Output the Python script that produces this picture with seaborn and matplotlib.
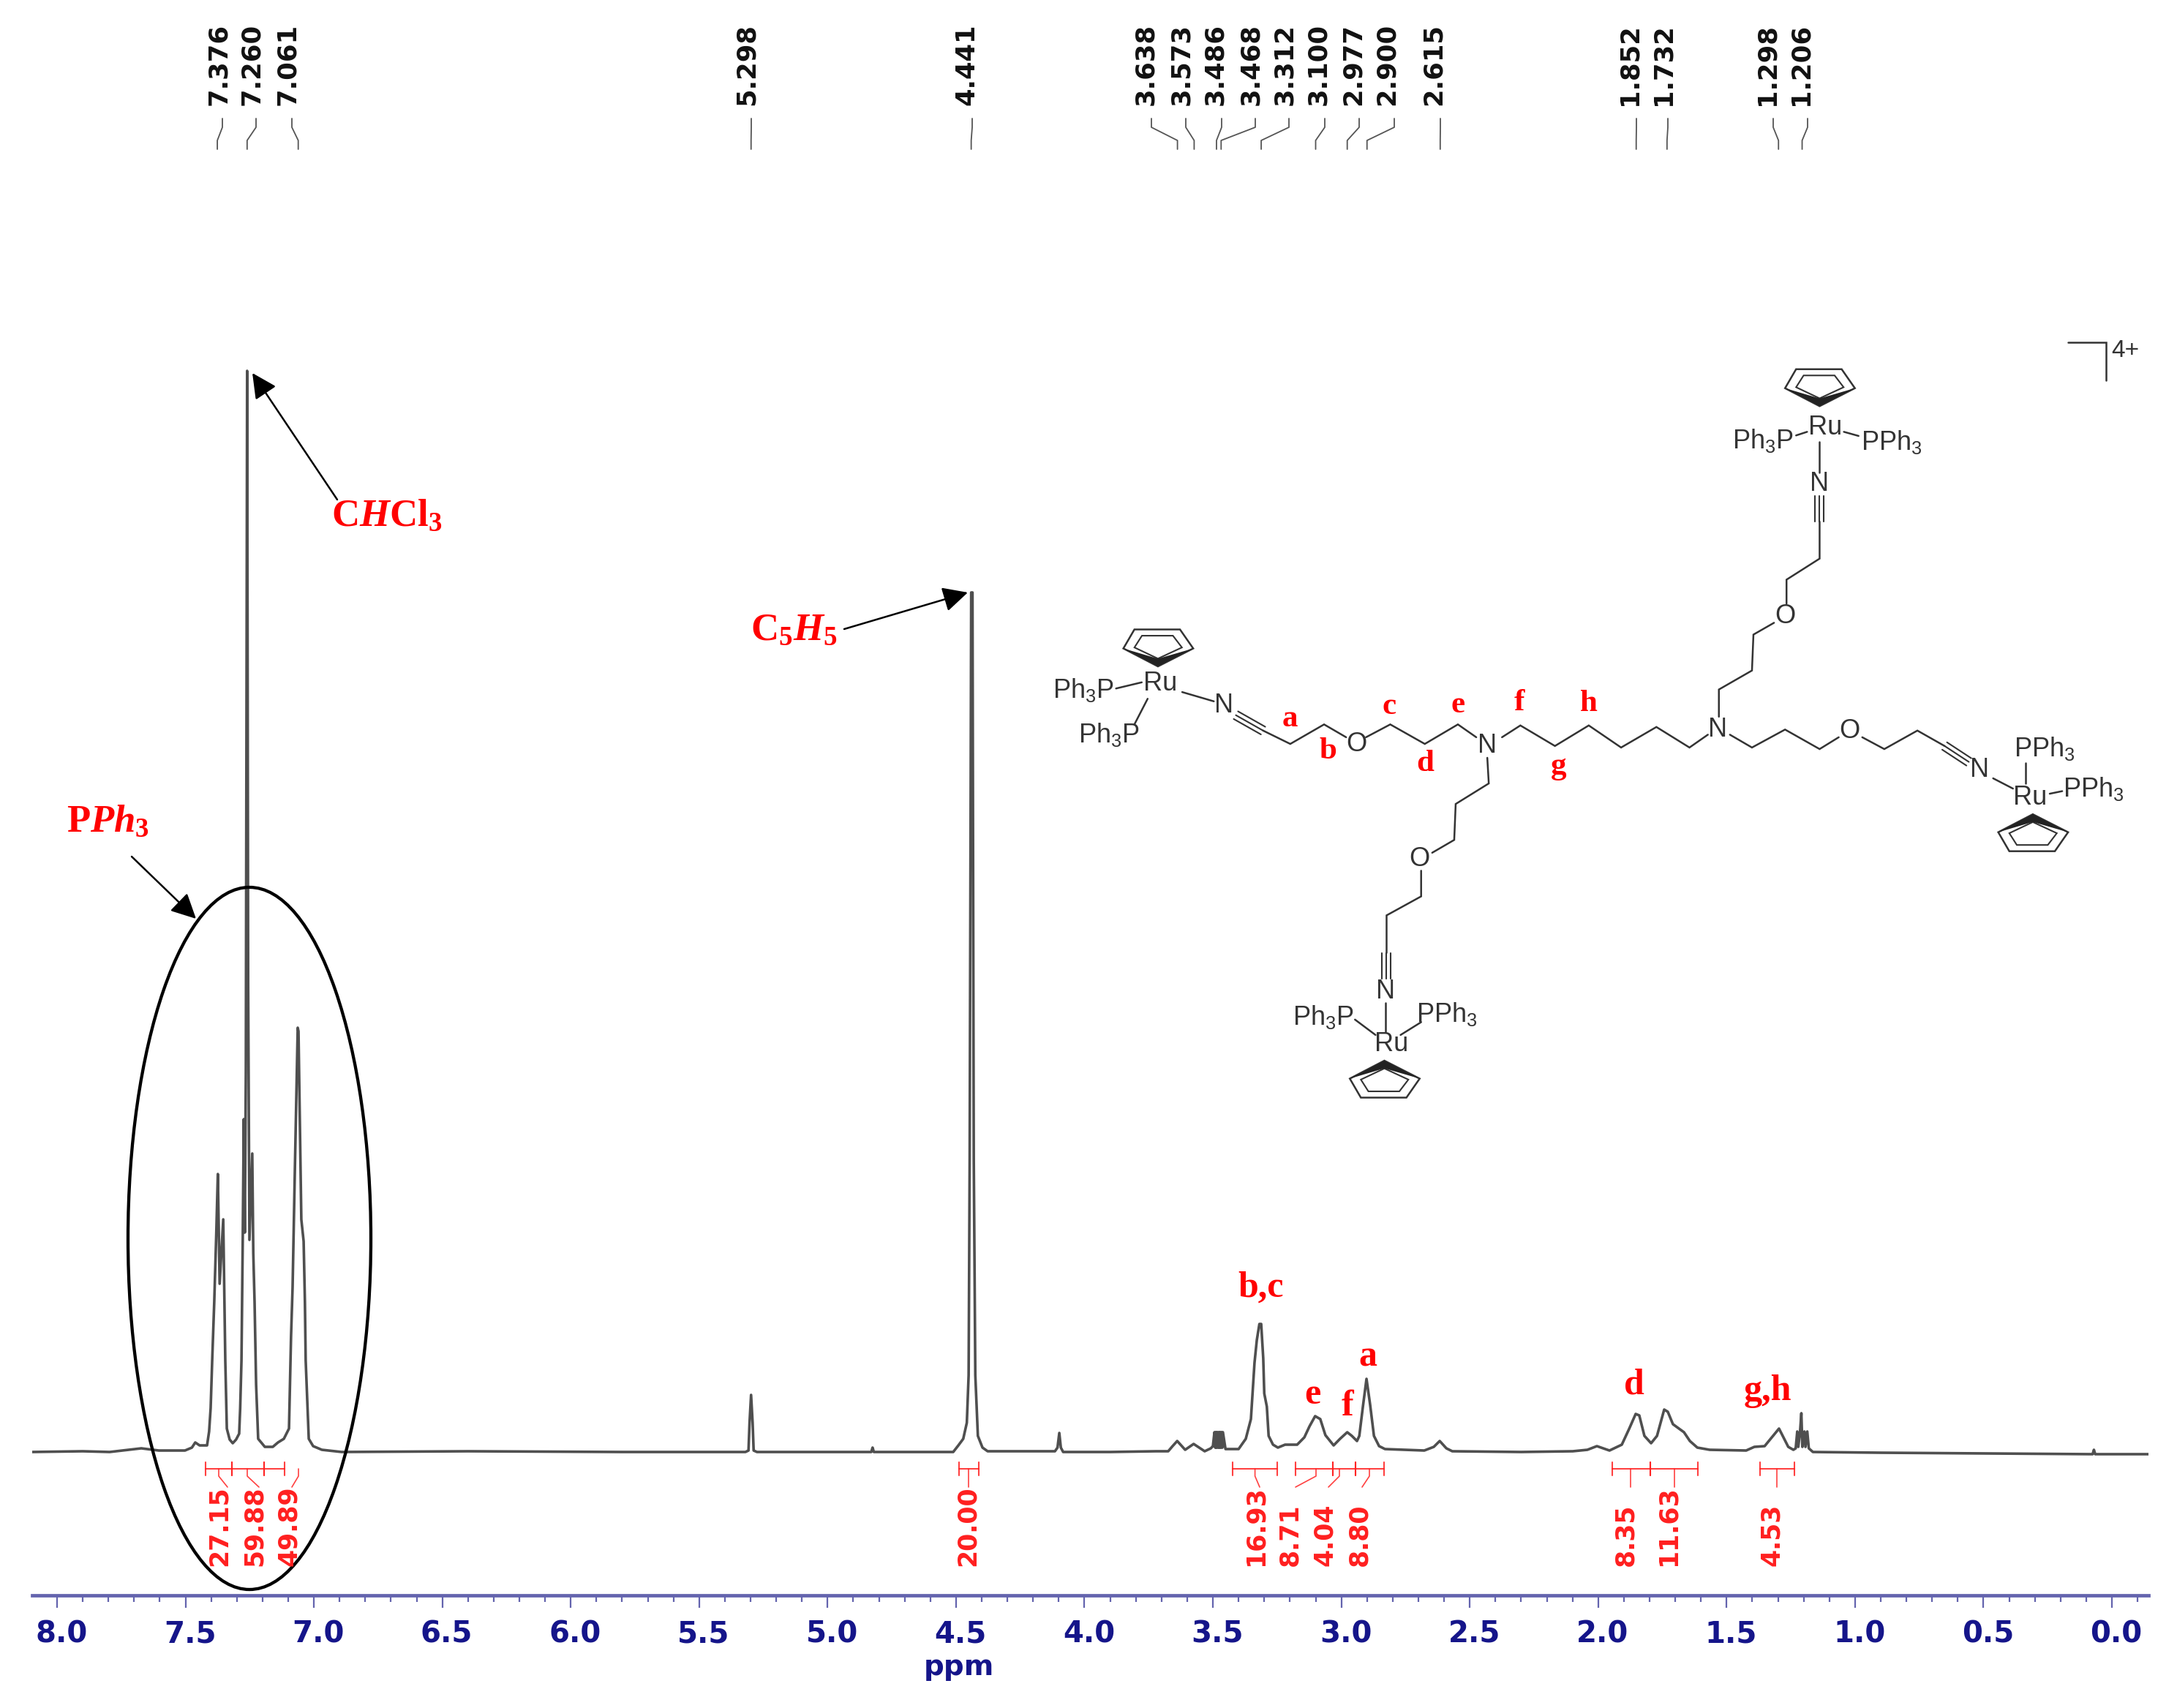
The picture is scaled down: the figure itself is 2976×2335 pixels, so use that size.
import numpy as np
import pandas as pd
import seaborn as sns
import matplotlib
matplotlib.use("Agg")
import matplotlib.pyplot as plt
from matplotlib.patches import Ellipse, Polygon
from matplotlib.ticker import FixedLocator
from matplotlib.transforms import ScaledTranslation

# ---------------- spectrum ----------------
ppm_aromatic = [8.097,7.90,7.795,7.72,7.672,7.604,7.502,7.475,7.462,7.445,7.416,7.408,7.402,7.396,7.388,7.380,
                7.374,7.367,7.353,7.349,7.345,7.339,7.328,7.316,7.303,7.291,7.287,7.282,7.277,7.273,7.269,7.265,
                7.260,7.256,7.251,7.240,7.236,7.231,7.225,7.217,7.191,7.160,7.140,7.117,7.097,7.089,7.083,7.074,
                7.063,7.060,7.054,7.049,7.040,7.035,7.032,7.020,7.003,6.969,6.892]
int_aromatic = [0,1,0,3,5,2,2,6,13,9,9,28,60,125,205,300,
                380,230,318,225,125,32,17,12,17,25,60,125,292,455,300,520,
                1478,640,290,408,272,205,92,18,7,7,13,18,32,158,225,388,
                580,575,438,318,288,205,125,18,8,3,0]
ppm_mid = [6.40,5.80,5.32,5.308,5.304,5.298,5.292,5.288,5.275,4.83,4.825,4.82,4.60,4.511,4.491,4.472,4.458,4.451,
           4.447,4.441,4.436,4.431,4.425,4.415,4.397,4.377,4.25,4.115,4.105,4.098,4.092,4.083,3.90,3.722]
int_mid = [1,0,0,2,40,78,40,2,0,0,6,0,0,0,9,18,40,105,
           400,1175,1175,400,105,22,6,1,1,1,6,26,6,0,0,1]
ppm_cluster = [3.674,3.657,3.639,3.608,3.575,3.532,3.508,3.500,3.494,3.491,3.489,3.487,3.485,3.482,3.480,3.477,3.475,
               3.473,3.471,3.468,3.466,3.463,3.461,3.451,3.400,3.372,3.352,3.338,3.329,3.319,3.312,3.304,3.300,3.290,
               3.283,3.266,3.247,3.219,3.172,3.144,3.124,3.102,3.082,3.062,3.030,3.005,2.977,2.959,2.939,2.930,2.916,
               2.902,2.888,2.873,2.853,2.830,2.677,2.640,2.617,2.591,2.568]
int_cluster = [1,8,15,3,11,1,5,8,27,6,27,6,27,6,27,6,27,
               6,27,6,27,6,27,4,4,18,45,122,153,175,175,128,80,62,
               22,10,6,10,10,20,35,49,45,23,9,18,27,22,15,22,62,
               100,65,22,8,4,2,7,15,5,1]
ppm_aliph = [2.30,2.099,2.042,2.005,1.956,1.908,1.879,1.854,1.840,1.820,1.794,1.771,1.743,1.729,1.709,1.666,1.643,1.614,
             1.566,1.424,1.392,1.352,1.296,1.260,1.240,1.231,1.225,1.221,1.214,1.209,1.205,1.197,1.193,1.186,1.180,
             1.164,0.90,0.50,0.10,0.075,0.07,0.065,0.04,-0.142]
int_aliph = [0,1,3,8,2,10,32,52,50,22,12,22,58,55,38,27,15,6,
             3,2,7,8,32,7,3,5,28,7,28,53,7,28,7,28,5,
             0,-1,-2,-3,-3,3,-3,-3,-3]

# ---------------- assigned shifts and integrals ----------------
shift_values = ["7.376","7.260","7.061","5.298","4.441","3.638","3.573","3.486","3.468",
                "3.312","3.100","2.977","2.900","2.615","1.852","1.732","1.298","1.206"]
integral_labels = ["27.15","59.88","49.89","20.00","16.93","8.71","4.04","8.80","8.35","11.63","4.53"]
integral_start = [7.422,7.319,7.194,4.488,3.424,3.178,3.033,2.945,1.945,1.797,1.371]
integral_end = [7.319,7.194,7.114,4.412,3.250,3.033,2.945,2.835,1.797,1.611,1.237]
tick_major = [8.0,7.5,7.0,6.5,6.0,5.5,5.0,4.5,4.0,3.5,3.0,2.5,2.0,1.5,1.0,0.5,0.0]
tick_labels = ["8.0","7.5","7.0","6.5","6.0","5.5","5.0","4.5","4.0","3.5","3.0","2.5","2.0","1.5","1.0","0.5","0.0"]

sns.set_theme(style="white")
plt.rcParams["font.family"] = ["DejaVu Sans"]
plt.rcParams["mathtext.fontset"] = "custom"
plt.rcParams["mathtext.rm"] = "Liberation Serif:bold"
plt.rcParams["mathtext.it"] = "Liberation Serif:italic:bold"
plt.rcParams["mathtext.sf"] = "Liberation Sans"
plt.rcParams["mathtext.bf"] = "Liberation Serif:bold"

W, H = 2976, 2335
fig = plt.figure(figsize=(W/100, H/100), dpi=100, facecolor="white")
AX_L, AX_R, AX_B = 44, 2937, 2181
ax = fig.add_axes([AX_L/W, (H-AX_B)/H, (AX_R-AX_L)/W, AX_B/H])

df = pd.DataFrame({"ppm": ppm_aromatic+ppm_mid+ppm_cluster+ppm_aliph,
                   "intensity": int_aromatic+int_mid+int_cluster+int_aliph})
sns.lineplot(data=df, x="ppm", y="intensity", sort=False, estimator=None, errorbar=None,
             color="#4f4f4f", lw=2.6, ax=ax, legend=False)

ax.set_xlim(8.0968, -0.1424)
ax.set_ylim(-196, 1985)
for s in ("top", "left", "right"):
    ax.spines[s].set_visible(False)
AXC = "#6464ae"
NAVY = "#15158a"
ax.spines["bottom"].set_color(AXC)
ax.spines["bottom"].set_linewidth(3.4)
ax.set_yticks([])
ax.set_ylabel("")
ax.set_xticks(tick_major)
ax.set_xticklabels(tick_labels, fontsize=29, fontweight="bold", color=NAVY)
ax.xaxis.set_minor_locator(FixedLocator(np.round(np.arange(-0.1, 8.05, 0.1), 1)))
ax.tick_params(axis="x", which="major", bottom=True, length=12.2, width=1.6, color=AXC, pad=12)
ax.tick_params(axis="x", which="minor", bottom=True, length=6.5, width=1.6, color=AXC)
off = ScaledTranslation(6/100, 0, fig.dpi_scale_trans)
for lab in ax.get_xticklabels():
    lab.set_transform(lab.get_transform()+off)
ax.set_xlabel("ppm", fontsize=28, fontweight="bold", color=NAVY, va="center")
ax.xaxis.set_label_coords((1311-AX_L)/(AX_R-AX_L), (AX_B-2279)/AX_B)

# integrals in ppm/intensity space
RED = "#ff1f1f"
BR_Y, BR_H = -23, 9
for a, b in zip(integral_start, integral_end):
    ax.plot([a, b], [BR_Y, BR_Y], color=RED, lw=1.5, alpha=.85, clip_on=False)
    ax.plot([a, a], [BR_Y-BR_H, BR_Y+BR_H], color=RED, lw=1.5, alpha=.85)
    ax.plot([b, b], [BR_Y-BR_H, BR_Y+BR_H], color=RED, lw=1.5, alpha=.85)

# overlay in figure pixels for annotation work
ov = fig.add_axes([0, 0, 1, 1], facecolor="none")
ov.set_xlim(0, W)
ov.set_ylim(H, 0)
ov.axis("off")
fig.canvas.draw()

def data_x(p):
    return ax.transData.transform((p, 0))[0]

shift_label_x = [299,344,393.5,1021,1321,1566.5,1615,1661,1710,1756,1802,1850,1896,1960,2228,2274,2416,2462]
shift_top_x = [304,350,399,1027,1329,1574,1621,1670,1716,1762,1811,1858,1906,1969,2237,2280,2424,2471]
for s, lx, tx in zip(shift_values, shift_label_x, shift_top_x):
    ov.text(lx, 144, s, rotation=90, ha="center", va="bottom", fontsize=25.5, fontweight="bold", color="#111111")
    bx = data_x(float(s))
    ov.plot([tx, tx, bx, bx], [162, 174, 192, 204], color="#555555", lw=1.3)

integral_text_x = [300,348,395,1323,1716.5,1763.6,1810.6,1858,2222,2281,2422.5]
leader_from_x = [299,338,408,1324,1715.6,1799,1831,1872,2229,2289,2429]
leader_to_x = [311,354,399,1324,1722,1771,1816,1862,2229,2289,2429]
for s, tx, lf, lt in zip(integral_labels, integral_text_x, leader_from_x, leader_to_x):
    ov.text(tx, 2141, s, rotation=90, ha="center", va="bottom", fontsize=25, fontweight="bold", color=RED)
    ov.plot([lf, lf, lt], [2008, 2018, 2033], color=RED, lw=1.2, alpha=.85)

# circled region and arrows
ov.add_patch(Ellipse((341, 1693), 332, 960, fill=False, ec="black", lw=3.1))
for tip, tail in [((345, 510), (461, 683)), ((1323, 810), (1154, 860)), ((268, 1256), (180, 1171))]:
    ov.annotate("", xy=tip, xytext=tail,
                arrowprops=dict(arrowstyle="-|>", color="black", lw=1.8, mutation_scale=52, shrinkA=0, shrinkB=0))

# red serif annotations
big = dict(color="red", fontsize=38, ha="center", va="center")
ov.text(529, 704, r"$\mathrm{C}\mathit{H}\mathrm{Cl}_3$", **big)
ov.text(1085, 860, r"$\mathrm{C}_5\mathit{H}_5$", **big)
ov.text(147, 1122, r"$\mathrm{P}\mathit{Ph}_3$", **big)
serif = dict(color="red", family="Liberation Serif", fontweight="bold", ha="center", va="center")
peak_letters = ["b,c", "e", "f", "a", "d", "g,h"]
peak_letter_x = [1724,1794,1842,1870,2234,2416]
peak_letter_y = [1761,1907,1923,1855,1894,1902]
for s, x, y in zip(peak_letters, peak_letter_x, peak_letter_y):
    ov.text(x, y, s, fontsize=36, **serif)

# drawn structure: coordinates in a local frame mapped to figure pixels
def Z(x, y):
    return 1400 + x/0.995, 450 + y/1.425

INK = "#333333"
def bond(*pts):
    xy = [Z(*p) for p in pts]
    ov.plot([p[0] for p in xy], [p[1] for p in xy], color=INK, lw=1.8, solid_joinstyle="miter")

def triple(p, q):
    a, b = np.array(Z(*p)), np.array(Z(*q))
    n = np.array([-(b-a)[1], (b-a)[0]])
    n = n/np.hypot(*n)*6
    for k in (-1, 0, 1):
        ov.plot([a[0]+k*n[0], b[0]+k*n[0]], [a[1]+k*n[1], b[1]+k*n[1]], color=INK, lw=1.5)

def atom(x, y, s, size=26):
    X, Y = Z(x, y)
    ov.text(X, Y, s, ha="center", va="center", fontsize=size, color=INK, family="Liberation Sans")

def cp(cx, cy, flip=1):
    outer = [(-32,-27),(30,-27),(48,10),(0,45),(-47,10)]
    o = [Z(cx+x, cy+flip*y) for x, y in outer]
    i = [Z(cx+x*.68, cy+flip*(5+(y-5)*.62)) for x, y in outer]
    w = [Z(cx+x, cy+flip*y) for x, y in [(-47,10),(0,45),(48,10),(0,30)]]
    ov.add_patch(Polygon(o, closed=True, fill=False, ec=INK, lw=1.8))
    ov.add_patch(Polygon(i, closed=True, fill=False, ec=INK, lw=1.5))
    ov.add_patch(Polygon(w, closed=True, fc="#222222", ec="none"))

# left arm
bond((125,700),(160,688)); bond((168,720),(150,770)); bond((215,707),(258,725))
triple((288,752),(325,782))
bond((325,782),(362,808),(408,770),(438,795))
bond((465,795),(498,770),(545,808),(590,770),(615,795))
# hexyl bridge
bond((650,795),(675,772),(722,812),(768,772),(812,815),(860,775),(905,815),(930,790))
# top arm
bond((945,755),(945,702),(990,665),(992,595),(1020,572))
bond((1037,535),(1037,488),(1082,447),(1082,375))
triple((1082,375),(1082,325))
bond((1082,280),(1082,220)); bond((1050,207),(1065,200)); bond((1115,200),(1135,208))
# right arm
bond((960,790),(990,815),(1035,780),(1082,818),(1108,795))
bond((1140,795),(1170,818),(1215,782),(1252,812))
triple((1252,812),(1285,843))
bond((1318,875),(1345,895)); bond((1362,845),(1362,885)); bond((1395,905),(1412,900))
# lower arm
bond((630,835),(632,885),(587,925),(585,995),(555,1020))
bond((540,1055),(540,1105),(493,1142),(493,1215))
triple((493,1215),(493,1265))
bond((492,1312),(492,1370)); bond((450,1345),(478,1375)); bond((540,1350),(512,1375))
# charge bracket
bond((1420,25),(1472,25),(1472,100))

for x, y, s in [(272,733,"N"),(452,808,"O"),(630,812,"N"),(943,780,"N"),(1035,560,"O"),(1082,302,"N"),
                (1123,783,"O"),(1300,858,"N"),(538,1032,"O"),(492,1290,"N"),
                (185,690,"Ru"),(1090,192,"Ru"),(1368,912,"Ru"),(500,1393,"Ru")]:
    atom(x, y, s)
ph3p = r"$\mathsf{Ph_3P}$"
pph3 = r"$\mathsf{PPh_3}$"
for x, y in [(80,703),(115,790),(1005,217),(407,1340)]:
    atom(x, y, ph3p)
for x, y in [(1180,220),(1388,817),(1455,895),(575,1335)]:
    atom(x, y, pph3)
atom(1498, 42, "4+", size=24)
cp(182, 612, 1)
cp(1082, 105, 1)
cp(1372, 990, -1)
cp(490, 1470, -1)

site_labels = ["a","b","c","d","e","f","g","h"]
site_x = [362,413,497,545,590,673,727,768]
site_y = [760,822,735,847,733,728,852,730]
for s, x, y in zip(site_labels, site_x, site_y):
    X, Y = Z(x, y)
    ov.text(X, Y, s, fontsize=31, **serif)

fig.savefig("out.png", dpi=100, facecolor="white")
